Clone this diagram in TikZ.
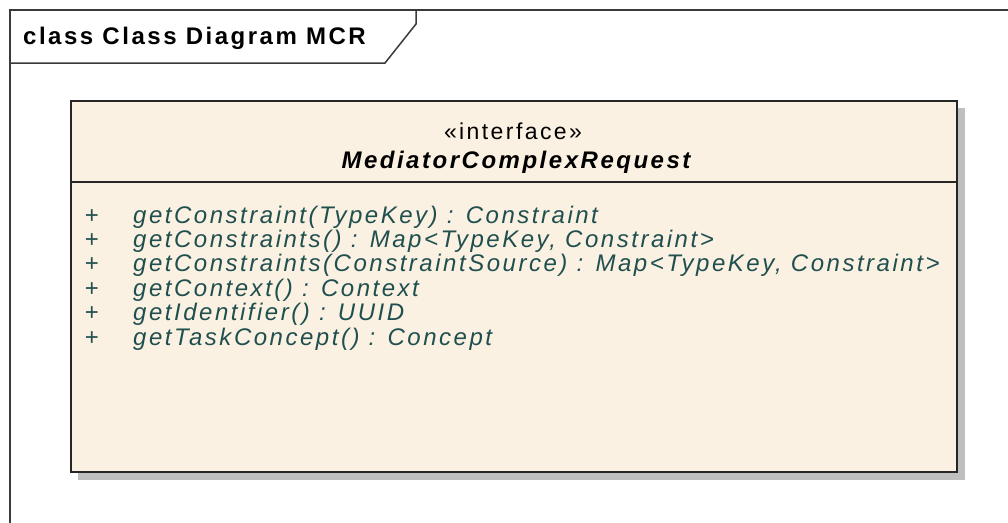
\documentclass[tikz,border=0pt]{standalone}
\usepackage{fontspec}
\setmainfont[LetterSpace=10.5]{Liberation Sans}
\definecolor{classfill}{HTML}{FBF1E2}
\definecolor{opteal}{HTML}{1F4F4F}
\definecolor{shadowgray}{HTML}{BFBFBF}
\definecolor{framegray}{HTML}{3A3A3A}
\tikzset{
  optext/.style={anchor=base west, inner sep=0pt, text=opteal, font=\itshape\fontsize{24}{24}\selectfont},
  opplus/.style={anchor=base, inner sep=0pt, text=opteal, font=\fontsize{24}{24}\selectfont}
}
\begin{document}
\begin{tikzpicture}[x=1pt, y=-1pt]
\useasboundingbox (0,0) rectangle (1008,522);
% diagram frame
\draw[framegray, line width=1.5pt] (1010,10) -- (10,10) -- (10,524);
\draw[framegray, line width=1.5pt] (10,63) -- (385,63) -- (416,24) -- (416,10);
\node[anchor=base west, inner sep=0pt, font=\bfseries\fontsize{24}{24}\selectfont] (title) at (23,44) {class Class Diagram MCR};
% interface box
\fill[shadowgray] (78,108) rectangle (965,480);
\node[draw=black!85, fill=classfill, line width=1.6pt, anchor=north west, inner sep=0pt,
      minimum width=886pt, minimum height=371pt] (mcr) at (70,100) {};
\draw[black!85, line width=1.6pt] (70,182) -- (956,182);
\node[anchor=base, inner sep=0pt, font=\fontsize{23}{23}\selectfont] (stereo) at (513,139) {«interface»};
\node[anchor=base, inner sep=0pt, font=\bfseries\itshape\fontsize{24}{24}\selectfont] (name) at (516,168) {MediatorComplexRequest};
% operations
\node[opplus] (p1) at (92,223) {+};
\node[optext] (op1) at (133,223) {getConstraint(TypeKey) : Constraint};
\node[opplus] (p2) at (92,247.4) {+};
\node[optext] (op2) at (133,247.4) {getConstraints() : Map<TypeKey, Constraint>};
\node[opplus] (p3) at (92,271.8) {+};
\node[optext] (op3) at (133,271.8) {getConstraints(ConstraintSource) : Map<TypeKey, Constraint>};
\node[opplus] (p4) at (92,296.2) {+};
\node[optext] (op4) at (133,296.2) {getContext() : Context};
\node[opplus] (p5) at (92,320.6) {+};
\node[optext] (op5) at (133,320.6) {getIdentifier() : UUID};
\node[opplus] (p6) at (92,345) {+};
\node[optext] (op6) at (133,345) {getTaskConcept() : Concept};
\end{tikzpicture}
\end{document}
